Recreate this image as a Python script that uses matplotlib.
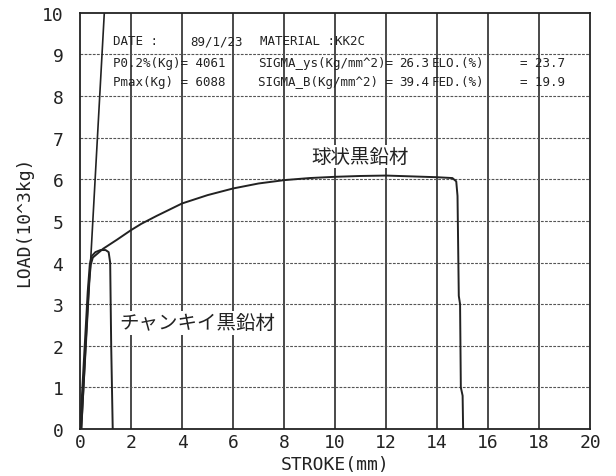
import numpy as np
import matplotlib.pyplot as plt

# -------------- data --------------
# spheroidal graphite (球状黒鉛材)
sph_stroke = [0.05, 0.15, 0.25, 0.35, 0.42, 0.5, 0.9, 1.45, 2.0, 2.4, 3.0, 4.0, 5.0, 6.0, 7.0,
              8.0, 9.0, 10.0, 11.0, 12.0, 13.0, 14.0, 14.6, 14.75, 14.8, 14.85, 14.9, 14.93, 15.0, 15.02]
sph_load = [0.0, 1.2, 2.4, 3.5, 3.95, 4.12, 4.33, 4.55, 4.78, 4.93, 5.12, 5.42, 5.62, 5.78, 5.9,
            5.98, 6.03, 6.06, 6.08, 6.09, 6.07, 6.05, 6.03, 5.95, 5.6, 3.2, 3.0, 1.0, 0.8, 0.0]

# chunky graphite (チャンキイ黒鉛材)
chk_stroke = [0.0, 0.1, 0.2, 0.3, 0.38, 0.45, 0.6, 0.8, 1.0, 1.12, 1.18, 1.22, 1.28]
chk_load = [0.0, 1.1, 2.2, 3.3, 3.95, 4.15, 4.25, 4.3, 4.3, 4.25, 4.0, 2.0, 0.0]

# elastic slope line
slope_stroke = [0.05, 0.95]
slope_load = [0.0, 10.0]

x_ticks = [0, 2, 4, 6, 8, 10, 12, 14, 16, 18, 20]
y_ticks = [0, 1, 2, 3, 4, 5, 6, 7, 8, 9, 10]

header_rows = [
    [(1.29, 'DATE :'), (4.31, '89/1/23'), (7.06, 'MATERIAL :KK2C')],
    [(1.29, 'P0.2%(Kg)= 4061'), (6.98, 'SIGMA_ys(Kg/mm^2)='), (12.5, '26.3'),
     (13.8, 'ELO.(%)'), (17.25, '= 23.7')],
    [(1.29, 'Pmax(Kg) = 6088'), (6.98, 'SIGMA_B(Kg/mm^2) ='), (12.5, '39.4'),
     (13.8, 'FED.(%)'), (17.25, '= 19.9')],
]
header_y = [9.33, 8.8, 8.35]
# ------------------------------------------------------

mono = 'DejaVu Sans Mono'
jp = ['Noto Sans CJK JP', 'DejaVu Sans']
ink = '#222222'

fig = plt.figure(figsize=(6.16, 4.77), dpi=100)
ax = fig.add_axes([0.130, 0.0985, 0.828, 0.8725])

# grid: solid verticals every 2, dotted horizontals every 1
for gx in x_ticks[1:-1]:
    ax.axvline(gx, color='#2a2a2a', lw=1.2, zorder=1)
for gy in y_ticks[1:-1]:
    ax.axhline(gy, color='#555555', lw=0.8, ls=(0, (2.5, 1.2)), zorder=1)

ax.plot(slope_stroke, slope_load, color=ink, lw=1.2, zorder=3)
ax.plot(chk_stroke, chk_load, color=ink, lw=1.4, zorder=3)
ax.plot(sph_stroke, sph_load, color=ink, lw=1.4, zorder=3)

ax.text(11.0, 6.55, '球状黒鉛材', family=jp, fontsize=14, color=ink,
        ha='center', va='center', zorder=4,
        bbox=dict(facecolor='white', edgecolor='none', pad=1))
ax.text(4.6, 2.55, 'チャンキイ黒鉛材', family=jp, fontsize=14, color=ink,
        ha='center', va='center', zorder=4,
        bbox=dict(facecolor='white', edgecolor='none', pad=1))

for row, yy in zip(header_rows, header_y):
    for xx, s in row:
        ax.text(xx, yy, s, family=mono, fontsize=9, color=ink, va='center', ha='left',
                zorder=4, clip_on=False)

ax.set_xlim(0, 20)
ax.set_ylim(0, 10)
ax.set_xticks(x_ticks)
ax.set_yticks(y_ticks)
ax.tick_params(length=0, labelsize=13, colors=ink)
ax.tick_params(axis='x', pad=3)
ax.tick_params(axis='y', pad=12)
for lab in ax.get_xticklabels() + ax.get_yticklabels():
    lab.set_family(mono)

ax.set_xlabel('STROKE(mm)', family=mono, fontsize=13, color=ink, labelpad=3)
ax.set_ylabel('LOAD(10^3kg)', family=mono, fontsize=13, color=ink, labelpad=6)

for sp in ax.spines.values():
    sp.set_color(ink)
    sp.set_linewidth(1.3)

plt.savefig('out.png', dpi=100)
